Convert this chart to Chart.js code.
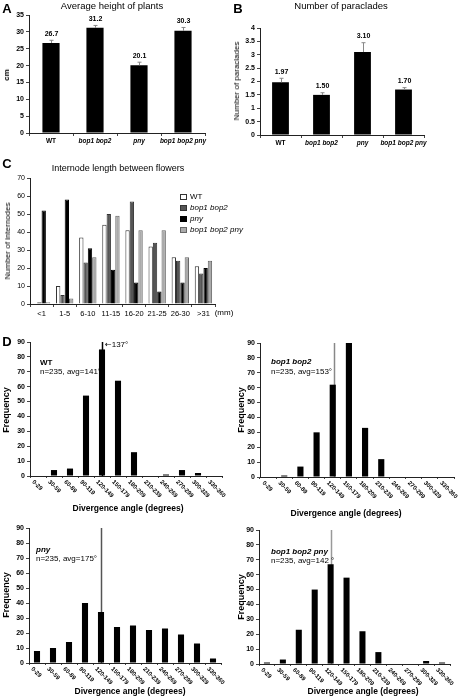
<!DOCTYPE html>
<html>
<head>
<meta charset="utf-8">
<script src="https://cdn.jsdelivr.net/npm/chart.js@4.4.1/dist/chart.umd.min.js"></script>
<style>
  body { margin: 0; background: #fff; }
  #fig { position: relative; width: 462px; height: 696px; overflow: hidden;
         font-family: "Liberation Sans", Arial, sans-serif; color: #000; }
  #fig canvas { position: absolute; }
  .t { position: absolute; white-space: nowrap; line-height: 1; }
  .sw { position: absolute; box-sizing: border-box; }
  .arrow { font-family: "DejaVu Sans", sans-serif; }
</style>
</head>
<body>
<div id="fig"></div>
<script>
// A: average plant height (cm)
const GENOTYPES = ['WT', 'bop1 bop2', 'pny', 'bop1 bop2 pny'];
const HEIGHT_CM = [26.7, 31.2, 20.1, 30.3];
const HEIGHT_ERR = [0.8, 0.7, 0.9, 1.0];

// B: number of paraclades
const PARACLADES = [1.97, 1.50, 3.10, 1.70];
const PARACLADES_ERR = [0.15, 0.08, 0.35, 0.07];

// C: internode length between flowers
const INTERNODE_BINS = ['<1', '1-5', '6-10', '11-15', '16-20', '21-25', '26-30', '>31'];
const INTERNODE_WT = [0, 10, 37, 44, 41, 32, 26, 21];
const INTERNODE_BOP = [1, 5, 23, 50, 57, 34, 24, 17];
const INTERNODE_PNY = [52, 58, 31, 19, 12, 7, 12, 20];
const INTERNODE_TRIPLE = [1, 3, 26, 49, 41, 41, 26, 24];

// D: divergence angle histograms
const ANGLE_BINS = ['0-29', '30-59', '60-89', '90-119', '120-149', '150-179',
  '180-209', '210-239', '240-269', '270-299', '300-329', '330-360'];
const ANGLE_WT = [0, 4, 5, 54, 85, 64, 16, 0, 1, 4, 2, 0];
const ANGLE_BOP = [0, 1, 7, 30, 62, 90, 33, 12, 0, 0, 0, 0];
const ANGLE_PNY = [8, 10, 14, 40, 34, 24, 25, 22, 23, 19, 13, 3];
const ANGLE_TRIPLE = [1, 3, 23, 50, 67, 58, 22, 8, 0, 0, 2, 1];
// vertical reference line, in bin units
const ANGLE_MARK = [4, 4.1, 4, 4];

const FONT = '"Liberation Sans", Arial, sans-serif';
const fig = document.getElementById('fig');

function addText(text, x, y, opts = {}) {
  const el = document.createElement('div');
  el.className = 't';
  el.textContent = text;
  el.style.fontSize = (opts.size || 8) + 'px';
  if (opts.bold) el.style.fontWeight = 'bold';
  if (opts.italic) el.style.fontStyle = 'italic';
  el.style.left = x + 'px';
  el.style.top = y + 'px';
  const ax = opts.anchor === 'left' ? '0' : '-50%';
  el.style.transform = `translate(${ax}, -50%)` + (opts.rotate ? ` rotate(${opts.rotate}deg)` : '');
  fig.appendChild(el);
  return el;
}

function mountCanvas(rect) {
  const c = document.createElement('canvas');
  c.width = rect.w;
  c.height = rect.h;
  c.style.left = rect.x + 'px';
  c.style.top = rect.y + 'px';
  c.style.width = rect.w + 'px';
  c.style.height = rect.h + 'px';
  fig.appendChild(c);
  return c;
}

// fixed axis sizes so the plot area lands where the figure has it
function baseOptions(rect, area, yMax, yStep, yBold) {
  const yWidth = area.l - rect.x;
  const xHeight = rect.y + rect.h - area.b;
  return {
    responsive: false,
    animation: false,
    layout: { padding: { top: area.t - rect.y, right: rect.x + rect.w - area.r, left: 0, bottom: 0 } },
    plugins: { legend: { display: false }, tooltip: { enabled: false } },
    scales: {
      x: {
        afterFit(s) { s.height = xHeight; },
        grid: { drawOnChartArea: false, tickLength: 3, color: '#444', offset: true },
        border: { color: '#222' },
        ticks: { color: '#000', padding: 1, maxRotation: 0, autoSkip: false,
                 font: { family: FONT, size: 7 } },
      },
      y: {
        min: 0,
        max: yMax,
        afterFit(s) { s.width = yWidth; },
        grid: { drawOnChartArea: false, tickLength: 3, color: '#444' },
        border: { color: '#222' },
        ticks: { stepSize: yStep, color: '#000', padding: 2,
                 callback: (v) => String(Number(v.toFixed(2))),
                 font: { family: FONT, size: 7, weight: yBold ? 'bold' : 'normal' } },
      },
    },
  };
}

const errorBars = {
  id: 'errorBars',
  afterDatasetsDraw(chart, args, opts) {
    const { ctx, scales: { y } } = chart;
    const values = chart.data.datasets[0].data;
    ctx.save();
    chart.getDatasetMeta(0).data.forEach((bar, i) => {
      const x = Math.round(bar.x) + 0.5;
      const top = y.getPixelForValue(values[i] + opts.errors[i]);
      ctx.strokeStyle = '#888';
      ctx.lineWidth = 1;
      ctx.beginPath();
      ctx.moveTo(x, bar.y);
      ctx.lineTo(x, top);
      ctx.moveTo(x - 2, top);
      ctx.lineTo(x + 2, top);
      ctx.stroke();
      ctx.fillStyle = '#000';
      ctx.font = `bold 7px ${FONT}`;
      ctx.textAlign = 'center';
      ctx.textBaseline = 'bottom';
      ctx.fillText(values[i].toFixed(opts.decimals), x, top - 3);
    });
    ctx.restore();
  },
};

const slantLabels = {
  id: 'slantLabels',
  afterDraw(chart) {
    const { ctx, scales: { x }, chartArea } = chart;
    ctx.save();
    ctx.font = `bold 6px ${FONT}`;
    ctx.fillStyle = '#000';
    ctx.textAlign = 'left';
    ctx.textBaseline = 'middle';
    chart.data.labels.forEach((lab, i) => {
      ctx.save();
      ctx.translate(x.getPixelForValue(i) - 5, chartArea.bottom + 5);
      ctx.rotate(Math.PI / 4);
      ctx.fillText(lab, 0, 0);
      ctx.restore();
    });
    ctx.restore();
  },
};

const avgLine = {
  id: 'avgLine',
  beforeDatasetsDraw(chart, args, opts) {
    const { ctx, scales: { x }, chartArea } = chart;
    const px = Math.round(x.getPixelForValue(opts.pos)) + 0.5;
    ctx.save();
    ctx.strokeStyle = opts.color;
    ctx.lineWidth = 1.5;
    ctx.beginPath();
    ctx.moveTo(px, chartArea.top);
    ctx.lineTo(px, chartArea.bottom);
    ctx.stroke();
    ctx.restore();
  },
};

function genotypeFont(ctx) {
  return { family: FONT, size: 6.5, weight: 'bold', style: ctx.index === 0 ? 'normal' : 'italic' };
}

// ---- A ----
function drawHeight() {
  const rect = { x: 0, y: 0, w: 215, h: 150 };
  const area = { l: 29, t: 15, r: 205, b: 133 };
  const options = baseOptions(rect, area, 35, 5, true);
  options.scales.x.ticks.font = genotypeFont;
  options.plugins.errorBars = { errors: HEIGHT_ERR, decimals: 1 };
  new Chart(mountCanvas(rect), {
    type: 'bar',
    data: { labels: GENOTYPES, datasets: [{ data: HEIGHT_CM, backgroundColor: '#000',
      barPercentage: 0.39, categoryPercentage: 1 }] },
    options,
    plugins: [errorBars],
  });
  addText('A', 7, 8, { size: 13, bold: true });
  addText('Average height of plants', 112, 6, { size: 9.5 });
  addText('cm', 7, 75, { size: 8, bold: true, rotate: -90 });
}

// ---- B ----
function drawParaclades() {
  const rect = { x: 231, y: 0, w: 200, h: 150 };
  const area = { l: 260, t: 28, r: 424, b: 135 };
  const options = baseOptions(rect, area, 4, 0.5, true);
  options.scales.x.ticks.font = genotypeFont;
  options.plugins.errorBars = { errors: PARACLADES_ERR, decimals: 2 };
  new Chart(mountCanvas(rect), {
    type: 'bar',
    data: { labels: GENOTYPES, datasets: [{ data: PARACLADES, backgroundColor: '#000',
      barPercentage: 0.41, categoryPercentage: 1 }] },
    options,
    plugins: [errorBars],
  });
  addText('B', 238, 8, { size: 13, bold: true });
  addText('Number of paraclades', 341, 6, { size: 9.5 });
  addText('Number of paraclades', 237, 81, { size: 8, rotate: -90 });
}

// ---- C ----
const INTERNODE_STYLE = [
  { fill: '#fff', stroke: '#333', italic: false },
  { fill: '#555', stroke: '#333', italic: true },
  { fill: '#000', stroke: '#000', italic: true },
  { fill: '#aaa', stroke: '#666', italic: true },
];

function drawInternodes() {
  const rect = { x: 0, y: 160, w: 240, h: 160 };
  const area = { l: 30, t: 178, r: 215, b: 304 };
  const options = baseOptions(rect, area, 70, 10, false);
  options.scales.x.ticks.font = { family: FONT, size: 7.5 };
  options.scales.x.ticks.padding = 2;
  const series = [INTERNODE_WT, INTERNODE_BOP, INTERNODE_PNY, INTERNODE_TRIPLE];
  new Chart(mountCanvas(rect), {
    type: 'bar',
    data: {
      labels: INTERNODE_BINS,
      datasets: series.map((data, i) => ({
        label: GENOTYPES[i],
        data,
        backgroundColor: INTERNODE_STYLE[i].fill,
        borderColor: INTERNODE_STYLE[i].stroke,
        borderWidth: 1,
        barPercentage: 1,
        categoryPercentage: 0.75,
      })),
    },
    options,
  });
  addText('C', 7, 163, { size: 13, bold: true });
  addText('Internode length between flowers', 118, 168, { size: 9 });
  addText('Number of internodes', 8, 241, { size: 8, rotate: -90 });
  addText('(mm)', 224, 313, { size: 8 });

  GENOTYPES.forEach((name, i) => {
    const y = 197 + i * 11;
    const sw = document.createElement('div');
    sw.className = 'sw';
    sw.style.left = '180px';
    sw.style.top = (y - 3) + 'px';
    sw.style.width = '7px';
    sw.style.height = '6px';
    sw.style.background = INTERNODE_STYLE[i].fill;
    sw.style.border = '1px solid ' + INTERNODE_STYLE[i].stroke;
    fig.appendChild(sw);
    addText(name, 190, y, { size: 8, italic: INTERNODE_STYLE[i].italic, anchor: 'left' });
  });
}

// ---- D ----
function drawAngles(rect, area, values, mark, markColor) {
  const options = baseOptions(rect, area, 90, 10, true);
  options.scales.x.ticks.display = false;
  options.scales.x.grid.tickLength = 2;
  options.plugins.avgLine = { pos: mark, color: markColor };
  new Chart(mountCanvas(rect), {
    type: 'bar',
    data: { labels: ANGLE_BINS, datasets: [{ data: values, backgroundColor: '#000',
      barPercentage: 0.38, categoryPercentage: 1 }] },
    options,
    plugins: [avgLine, slantLabels],
  });
}

function drawDivergence() {
  drawAngles({ x: 0, y: 335, w: 231, h: 168 }, { l: 30, t: 342, r: 222, b: 476 },
    ANGLE_WT, ANGLE_MARK[0], '#000');
  drawAngles({ x: 231, y: 335, w: 231, h: 168 }, { l: 260, t: 343, r: 454, b: 477 },
    ANGLE_BOP, ANGLE_MARK[1], '#888');
  drawAngles({ x: 0, y: 520, w: 231, h: 168 }, { l: 29, t: 528, r: 221, b: 663 },
    ANGLE_PNY, ANGLE_MARK[2], '#555');
  drawAngles({ x: 231, y: 520, w: 231, h: 168 }, { l: 259, t: 530, r: 450, b: 664 },
    ANGLE_TRIPLE, ANGLE_MARK[3], '#999');

  addText('D', 7, 341, { size: 13, bold: true });

  addText('Frequency', 6, 410, { size: 9, bold: true, rotate: -90 });
  addText('Divergence angle (degrees)', 128, 508, { size: 8.5, bold: true });
  addText('WT', 40, 363, { size: 8, bold: true, anchor: 'left' });
  addText('n=235, avg=141°', 40, 372, { size: 8, anchor: 'left' });
  const arrow = addText('', 105, 345, { size: 8, anchor: 'left' });
  arrow.innerHTML = '<span class="arrow">\u2190</span>137°';

  addText('Frequency', 241, 410, { size: 9, bold: true, rotate: -90 });
  addText('Divergence angle (degrees)', 346, 513, { size: 8.5, bold: true });
  addText('bop1 bop2', 271, 362, { size: 8, bold: true, italic: true, anchor: 'left' });
  addText('n=235, avg=153°', 271, 372, { size: 8, anchor: 'left' });

  addText('Frequency', 6, 595, { size: 9, bold: true, rotate: -90 });
  addText('Divergence angle (degrees)', 130, 691, { size: 8.5, bold: true });
  addText('pny', 36, 550, { size: 8, bold: true, italic: true, anchor: 'left' });
  addText('n=235, avg=175°', 36, 559, { size: 8, anchor: 'left' });

  addText('Frequency', 241, 597, { size: 9, bold: true, rotate: -90 });
  addText('Divergence angle (degrees)', 363, 691, { size: 8.5, bold: true });
  addText('bop1 bop2 pny', 271, 552, { size: 8, bold: true, italic: true, anchor: 'left' });
  addText('n=235, avg=142 °', 271, 561, { size: 8, anchor: 'left' });
}

drawHeight();
drawParaclades();
drawInternodes();
drawDivergence();
</script>
</body>
</html>
